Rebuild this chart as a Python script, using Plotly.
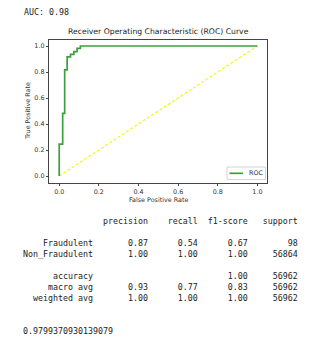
import plotly.graph_objects as go

# ROC curve corner points (false positive rate, true positive rate)
fpr = [0.0, 0.0, 0.0175, 0.0175, 0.0276, 0.0276, 0.040, 0.040, 0.057, 0.057,
       0.074, 0.074, 0.090, 0.090, 0.107, 0.107, 1.0]
tpr = [0.0, 0.245, 0.245, 0.482, 0.482, 0.816, 0.816, 0.916, 0.916, 0.935,
       0.935, 0.956, 0.956, 0.982, 0.982, 1.0, 1.0]
chance_x = [0.0, 1.0]
chance_y = [0.0, 1.0]
tick_vals = [0.0, 0.2, 0.4, 0.6, 0.8, 1.0]

auc_score = 0.9799370930139079

# classification report
class_names = ["Fraudulent", "Non_Fraudulent"]
report_headers = ["precision", "recall", "f1-score", "support"]
precision = [0.87, 1.00]
recall = [0.54, 1.00]
f1_score = [0.67, 1.00]
support = [98, 56864]
accuracy = 1.00
macro_avg = [0.93, 0.77, 0.83]
weighted_avg = [1.00, 1.00, 1.00]
total_support = 56962

W, H = 329, 346


def px(x):
    return x / W


def py(y):
    return 1 - y / H


# axes box in pixels
ax_l, ax_r, ax_t, ax_b = 49.3, 267.3, 39.5, 182.5

fig = go.Figure()
fig.add_trace(go.Scatter(x=chance_x, y=chance_y, mode="lines",
                         line=dict(color="#f2f20a", width=1.1, dash="3px,2px"),
                         showlegend=False, hoverinfo="skip"))
fig.add_trace(go.Scatter(x=fpr, y=tpr, mode="lines", name="ROC",
                         line=dict(color="#3e9f3e", width=1.7),
                         showlegend=False))

axis_common = dict(
    range=[-0.05, 1.05], tickvals=tick_vals, ticktext=[f"{v:.1f}" for v in tick_vals],
    showgrid=False, zeroline=False, showline=True, mirror=True,
    linecolor="#444", linewidth=1, ticks="outside", ticklen=2.5, tickwidth=0.8,
    tickcolor="#444", tickfont=dict(family="DejaVu Sans", size=6.4, color="#333"),
)
fig.update_xaxes(domain=[px(ax_l), px(ax_r)], **axis_common)
fig.update_yaxes(domain=[py(ax_b), py(ax_t)], **axis_common)

ann = []
ann.append(dict(text="Receiver Operating Characteristic (ROC) Curve", x=px((ax_l + ax_r) / 2),
                y=py(32), xref="paper", yref="paper", showarrow=False,
                xanchor="center", yanchor="middle",
                font=dict(family="DejaVu Sans", size=7.7, color="#222")))
ann.append(dict(text="False Positive Rate", x=px((ax_l + ax_r) / 2), y=py(200),
                xref="paper", yref="paper", showarrow=False, xanchor="center", yanchor="middle",
                font=dict(family="DejaVu Sans", size=6.4, color="#333")))
ann.append(dict(text="True Positive Rate", x=px(28), y=py((ax_t + ax_b) / 2),
                xref="paper", yref="paper", showarrow=False, textangle=-90,
                xanchor="center", yanchor="middle",
                font=dict(family="DejaVu Sans", size=6.4, color="#333")))

# legend box
shapes = [
    dict(type="rect", xref="paper", yref="paper", x0=px(227), x1=px(265.5), y0=py(179.5), y1=py(167),
         line=dict(color="#d4d4d4", width=1), fillcolor="rgba(255,255,255,0.9)"),
    dict(type="line", xref="paper", yref="paper", x0=px(229.5), x1=px(243), y0=py(173.3), y1=py(173.3),
         line=dict(color="#3e9f3e", width=1.7)),
]
ann.append(dict(text="ROC", x=px(247), y=py(173.3), xref="paper", yref="paper", showarrow=False,
                xanchor="left", yanchor="middle",
                font=dict(family="DejaVu Sans", size=6.4, color="#333")))

# text output
mono = dict(family="DejaVu Sans Mono", size=8.3, color="#222")


def out_line(text, y, x=21):
    ann.append(dict(text=text.rstrip().replace(" ", "\u00a0"), x=px(x), y=py(y),
                    xref="paper", yref="paper", showarrow=False,
                    xanchor="left", yanchor="middle", font=mono))


out_line(f"AUC: {auc_score:.2f}", 12, x=22)

width = max(len(n) for n in class_names + ["weighted avg"])
lines = []
lines.append(("{:>{w}s} " + " {:>9}" * 4).format("", *report_headers, w=width))
lines.append("")
row_fmt = "{:>{w}s} " + " {:>9.2f}" * 3 + " {:>9}"
for i, name in enumerate(class_names):
    lines.append(row_fmt.format(name, precision[i], recall[i], f1_score[i], support[i], w=width))
lines.append("")
lines.append(("{:>{w}s} " + " {:>9}" * 2 + " {:>9.2f}" + " {:>9}").format(
    "accuracy", "", "", accuracy, total_support, w=width))
lines.append(row_fmt.format("macro avg", *macro_avg, total_support, w=width))
lines.append(row_fmt.format("weighted avg", *weighted_avg, total_support, w=width))
lines.append("")
lines.append("")
lines.append(repr(auc_score))

for i, ln in enumerate(lines):
    if ln.strip():
        out_line(ln, 221 + 11 * i)

fig.update_layout(
    width=W, height=H, margin=dict(l=0, r=0, t=0, b=0),
    paper_bgcolor="white", plot_bgcolor="white",
    annotations=ann, shapes=shapes, showlegend=False,
)

fig.write_html("out.html", config={"displayModeBar": False})
